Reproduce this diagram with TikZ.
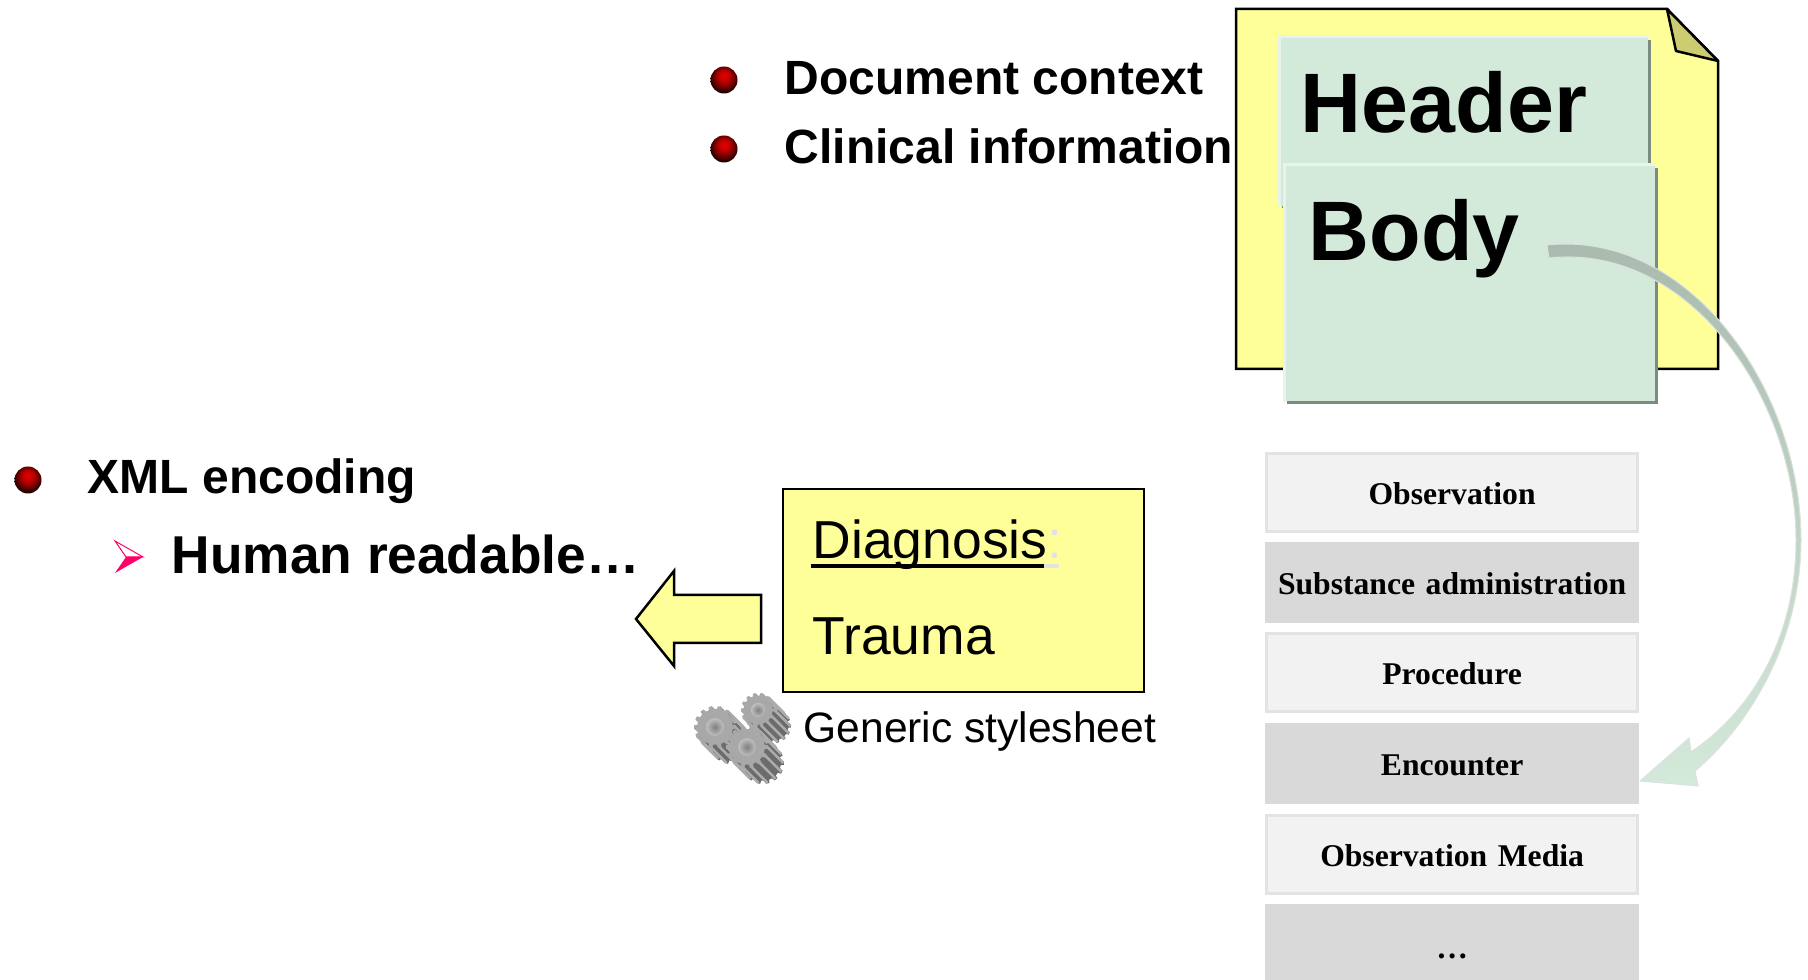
\documentclass[tikz,border=0pt]{standalone}
\usepackage{fontspec}
\setmainfont{Liberation Sans}
\newfontfamily\serifbold{Liberation Serif}[BoldFont={Liberation Serif Bold}]
\usepackage{xcolor}
\usetikzlibrary{positioning}
\usetikzlibrary{shadows}

\definecolor{pageyellow}{HTML}{FFFF99}
\definecolor{foldolive}{HTML}{CCCC70}
\definecolor{sectiongreen}{HTML}{D3E9DA}
\definecolor{sectionedge}{HTML}{E8F3EC}
\definecolor{sectionshadow}{HTML}{7A8B80}
\definecolor{listlight}{HTML}{F2F2F2}
\definecolor{listedge}{HTML}{E3E3E3}
\definecolor{listdark}{HTML}{D9D9D9}
\definecolor{arcdark}{HTML}{A8BAAE}
\definecolor{arcmid}{HTML}{D5DFD8}
\definecolor{arcedge}{HTML}{DDE1DD}
\definecolor{pinkmark}{HTML}{FF0066}

\pgfdeclareradialshading{redball}{\pgfpoint{0bp}{9bp}}{
color(0bp)=(red!90!black); color(10bp)=(red!75!black); color(20bp)=(red!40!black); color(30bp)=(black); color(50bp)=(black)}

\tikzset{
  bullet/.style={circle, inner sep=0, minimum size=0.27cm, shading=redball},
  bigtext/.style={anchor=base west, inner sep=0, font=\fontsize{13.66}{16}\selectfont\bfseries},
  sectionbox/.style={rectangle, inner ysep=0, align=left, fill=sectiongreen,
    font=\fontsize{24}{28}\selectfont\bfseries, text height=0.95cm,
    drop shadow={shadow xshift=0.025cm, shadow yshift=-0.025cm, fill=sectionshadow, opacity=1}},
  listbox/.style={rectangle, anchor=north west, inner sep=0, line width=0.03cm, text width=3.71cm,
    align=center, text height=0.51cm, text depth=0.27cm, font=\serifbold\fontsize{9}{11}\selectfont\bfseries},
  listone/.style={listbox, fill=listlight, draw=listedge},
  listtwo/.style={listbox, fill=listdark, draw=listdark},
  noteline/.style={anchor=base west, inner sep=0, font=\fontsize{15.2}{18}\selectfont},
  blackedge/.style={draw=black, line width=0.025cm, line join=miter},
}

% one gear: x, y, radius
\newcommand{\gearoutline}[1]{
  (-7:#1*0.85) \foreach \k [evaluate=\k as \a using \k*360/14] in {0,...,13} {
    -- (\a-7:#1*0.85) -- (\a-5:#1) -- (\a+5:#1) -- (\a+7:#1*0.85)
  } -- cycle
}
\newcommand{\gearat}[3]{
  \begin{scope}[shift={(#1,#2)}]
    \foreach \d in {1,2.5,...,16} {
      \fill[gray!85!black, shift={(\d,\d)}] \gearoutline{#3};
    }
    \foreach \k [evaluate=\k as \a using \k*360/14] in {0,...,13} {
      \draw[gray!65, line width=0.025cm] (\a:#3*0.97)--++(16,16);
    }
    \fill[gray!68] \gearoutline{#3};
    \shade[inner color=gray, outer color=gray!50] (0,0) circle [radius=#3*0.42];
  \end{scope}
}

\begin{document}
\begin{tikzpicture}[x=0.01cm, y=-0.01cm]
\useasboundingbox (0,0) rectangle (1808,980);
\clip (0,0) rectangle (1808,980);

% top list
\node[bullet] (bulletdoc) at (724,80) {};
\node[bullet] (bulletclin) at (724,149) {};
\node[bigtext] (doccontext) at (784,95) {Document context};
\node[bigtext] (clininfo) at (784,164) {Clinical information};

% left list
\node[bullet] (bulletxml) at (28,480) {};
\node[bigtext] (xmlenc) at (87,494) {XML encoding};
\node[bigtext, font=\fontsize{15.15}{18}\selectfont\bfseries] (readable) at (171,574) {Human readable…};
\draw[pinkmark, line width=0.01cm, fill=white] (115,541)--(143,557)--(126,557)--cycle;
\fill[pinkmark] (115,573)--(143,557)--(126,557)--cycle;

% document page
\path[blackedge, fill=pageyellow] (1236,9)--(1667,9)--(1718,61)--(1718,369)--(1236,369)--cycle;
\path[blackedge, fill=foldolive, line join=round] (1667,9)--(1676,51)--(1718,61)--cycle;

\node[sectionbox, anchor=north west, inner xsep=0.21cm, text width=3.265cm, text depth=0.73cm] (headerbox) at (1279,37) {Header};
\draw[sectionedge, line width=0.03cm] (headerbox.south west)--(headerbox.north west)--(headerbox.north east);
\node[sectionbox, anchor=north west, inner xsep=0.24cm, text width=3.225cm, text depth=1.405cm] (bodybox) at (1284,165) {Body};
\draw[sectionedge, line width=0.03cm] (bodybox.south west)--(bodybox.north west)--(bodybox.north east);

% entries
\node[listone] (observation) at (1265,452) {Observation};
\node[listtwo] (substance) at (1265,542) {Substance administration};
\node[listone] (procedure) at (1265,632) {Procedure};
\node[listtwo] (encounter) at (1265,723) {Encounter};
\node[listone] (media) at (1265,814) {Observation Media};
\node[listtwo, text depth=0.6cm] (moreentries) at (1265,904) {\raisebox{-0.02cm}{…}};

% arc from body to encounter
\shade[top color=arcdark, middle color=arcmid, bottom color=sectiongreen, draw=arcedge, line width=0.01cm]
  (1547,245) .. controls (1690,230) and (1801,390) .. (1801,540)
  .. controls (1801,640) and (1750,725) .. (1695,771)
  --(1698,786)--(1640,781)--(1689,738)--(1691,752)
  .. controls (1750,712) and (1796,640) .. (1796,540)
  .. controls (1796,400) and (1690,243) .. (1549,258)
  --cycle;

% rendered note
\path[blackedge, fill=pageyellow] (783,489) rectangle (1144,692);
\node[noteline] (diagnosis) at (812,559) {Diagnosis\textcolor{listedge}{:}};
\node[noteline] (trauma) at (812,655) {Trauma};
\draw[black, line width=0.04cm] (811,566)--(1044,566);
\draw[listedge, line width=0.04cm] (1044,566)--(1059,566);

\path[blackedge, fill=pageyellow] (761,595)--(674,595)--(674,571)--(636,619)--(674,666)--(674,643)--(761,643)--cycle;

% gears
\gearat{758}{710}{17}
\gearat{715}{727}{21}
\gearat{747}{747}{21}

\node[anchor=base west, inner sep=0, font=\fontsize{12.1}{14}\selectfont] (stylesheet) at (803,743) {Generic stylesheet};

\end{tikzpicture}
\end{document}
